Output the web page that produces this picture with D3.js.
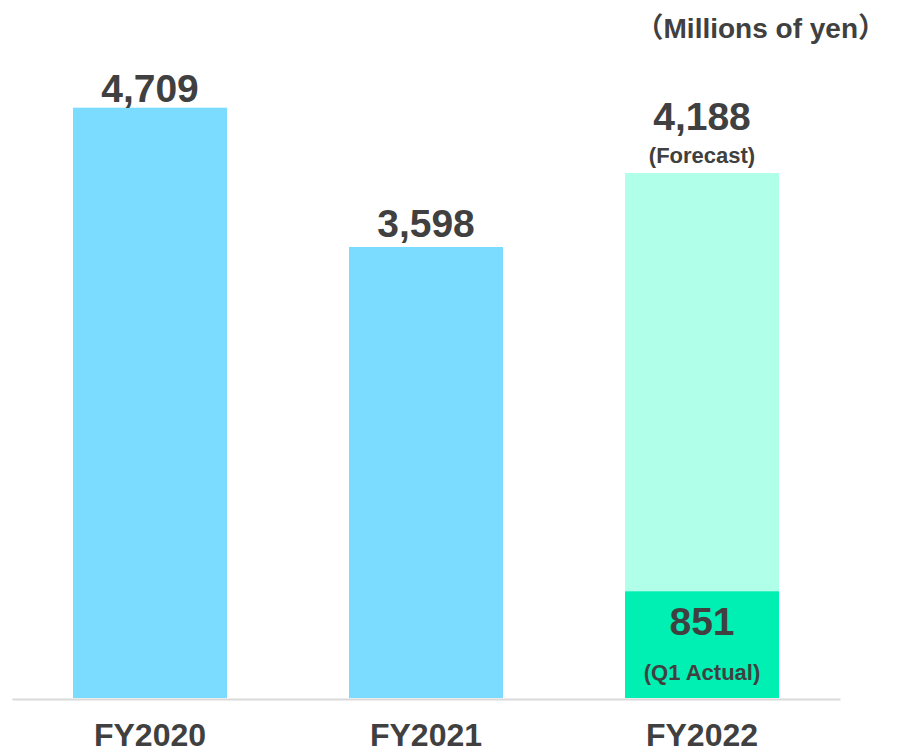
<!DOCTYPE html>
<html>
<head>
<meta charset="utf-8">
<script src="https://cdn.jsdelivr.net/npm/d3@7"></script>
<style>
  html, body { margin: 0; padding: 0; background: #fff; }
  svg { display: block; }
</style>
</head>
<body>
<svg id="chart" width="899" height="750"></svg>
<script>
const categories = ["FY2020", "FY2021", "FY2022"];
const totalValues = [4709, 3598, 4188];
const q1Actual = [null, null, 851];
const valueLabels = ["4,709", "3,598", "4,188"];
const subLabels = ["", "", "(Forecast)"];
const q1Labels = ["", "", "851"];
const q1SubLabels = ["", "", "(Q1 Actual)"];
const unitLabel = "（Millions of yen）";

const font = "'Liberation Sans', Arial, 'Noto Sans CJK JP', sans-serif";
const textColor = "#404040";
const actualColor = "#7BDCFF";
const forecastColor = "#B0FFE8";
const q1Color = "#00F0B4";

const svg = d3.select("#chart");
const baseY = 698;

const x = d3.scaleBand()
  .domain(categories)
  .range([12, 840])
  .paddingInner(0.442)
  .paddingOuter(0.221);

const y = d3.scaleLinear()
  .domain([0, 5000])
  .range([baseY, baseY - 5000 * 0.12536]);

const rows = categories.map((c, i) => ({
  cat: c, total: totalValues[i], q1: q1Actual[i],
  label: valueLabels[i], sub: subLabels[i], q1Label: q1Labels[i], q1Sub: q1SubLabels[i]
}));

// total bars
svg.append("g").selectAll("rect.total")
  .data(rows).join("rect")
  .attr("class", "total")
  .attr("x", d => x(d.cat))
  .attr("width", x.bandwidth())
  .attr("y", d => y(d.total))
  .attr("height", d => y(0) - y(d.total))
  .attr("fill", d => d.q1 != null ? forecastColor : actualColor);

// Q1 actual bar
svg.append("g").selectAll("rect.q1")
  .data(rows.filter(d => d.q1 != null)).join("rect")
  .attr("class", "q1")
  .attr("x", d => x(d.cat))
  .attr("width", x.bandwidth())
  .attr("y", d => y(d.q1))
  .attr("height", d => y(0) - y(d.q1))
  .attr("fill", q1Color);

// axis
const axis = svg.append("g")
  .attr("transform", `translate(0,${baseY + 1})`)
  .call(d3.axisBottom(x).tickSize(0).tickSizeOuter(0).tickPadding(0));
axis.select(".domain").attr("stroke", "#D9D9D9").attr("stroke-width", 2);
axis.selectAll(".tick text")
  .attr("dy", null)
  .attr("y", 47)
  .attr("font-family", font)
  .attr("font-weight", "bold")
  .attr("font-size", 32)
  .attr("fill", textColor);

const cx = d => x(d.cat) + x.bandwidth() / 2;

// value labels
svg.append("g").selectAll("text.val")
  .data(rows).join("text")
  .attr("class", "val")
  .attr("x", cx)
  .attr("y", d => y(d.total) - (d.sub ? 43 : (d.total > 4500 ? 6 : 10)))
  .attr("text-anchor", "middle")
  .attr("font-family", font)
  .attr("font-weight", "bold")
  .attr("font-size", 39)
  .attr("fill", textColor)
  .text(d => d.label);

svg.append("g").selectAll("text.sub")
  .data(rows.filter(d => d.sub)).join("text")
  .attr("class", "sub")
  .attr("x", cx)
  .attr("y", d => y(d.total) - 10)
  .attr("text-anchor", "middle")
  .attr("font-family", font)
  .attr("font-weight", "bold")
  .attr("font-size", 22)
  .attr("fill", textColor)
  .text(d => d.sub);

svg.append("g").selectAll("text.q1val")
  .data(rows.filter(d => d.q1 != null)).join("text")
  .attr("class", "q1val")
  .attr("x", cx)
  .attr("y", d => y(d.q1) + 44)
  .attr("text-anchor", "middle")
  .attr("font-family", font)
  .attr("font-weight", "bold")
  .attr("font-size", 39)
  .attr("fill", textColor)
  .text(d => d.q1Label);

svg.append("g").selectAll("text.q1sub")
  .data(rows.filter(d => d.q1 != null)).join("text")
  .attr("class", "q1sub")
  .attr("x", cx)
  .attr("y", d => y(0) - 18)
  .attr("text-anchor", "middle")
  .attr("font-family", font)
  .attr("font-weight", "bold")
  .attr("font-size", 22)
  .attr("fill", textColor)
  .text(d => d.q1Sub);

// unit label
svg.append("text")
  .attr("x", 886)
  .attr("y", 38)
  .attr("text-anchor", "end")
  .attr("font-family", font)
  .attr("font-weight", "bold")
  .attr("font-size", 28)
  .attr("fill", textColor)
  .text(unitLabel);
</script>
</body>
</html>
